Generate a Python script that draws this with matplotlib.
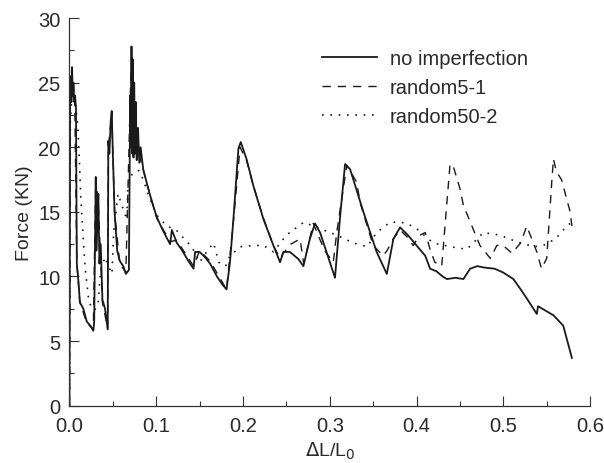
import numpy as np
import matplotlib
matplotlib.use("Agg")
import matplotlib.pyplot as plt
from matplotlib.ticker import MultipleLocator

# no imperfection (solid)
solid_x = [0.0, 0.0007, 0.0015, 0.0022, 0.003, 0.0038, 0.0046, 0.0055, 0.0065, 0.0075,
           0.0085, 0.0105, 0.012, 0.016, 0.02, 0.024, 0.0275, 0.0285, 0.0303, 0.031,
           0.032, 0.0333, 0.0345, 0.036, 0.038, 0.041, 0.0441, 0.0448, 0.046, 0.0475,
           0.0487, 0.050, 0.052, 0.055, 0.058, 0.062, 0.065, 0.0685, 0.0700, 0.0708,
           0.0715, 0.0722, 0.0730, 0.0738, 0.0746, 0.0755, 0.0765, 0.0775, 0.0790, 0.0805,
           0.082, 0.085, 0.09, 0.095, 0.1006, 0.106, 0.112, 0.116, 0.118, 0.1237,
           0.13, 0.137, 0.143, 0.1448, 0.150, 0.156, 0.162, 0.170, 0.176, 0.181,
           0.185, 0.189, 0.1947, 0.1974, 0.204, 0.212, 0.2235, 0.235, 0.2427, 0.2465,
           0.254, 0.2638, 0.2696, 0.277, 0.283, 0.2888, 0.306, 0.312, 0.3176, 0.3234,
           0.3387, 0.354, 0.3657, 0.3733, 0.381, 0.39, 0.40, 0.41, 0.4156, 0.423,
           0.43, 0.435, 0.445, 0.454, 0.4617, 0.47, 0.477, 0.49, 0.50, 0.5116,
           0.52, 0.527, 0.5386, 0.540, 0.55, 0.5577, 0.569, 0.579]
solid_y = [0.0, 23.0, 25.5, 23.5, 26.2, 24.0, 25.0, 23.5, 24.0, 23.0,
           11.0, 9.5, 8.0, 7.5, 6.5, 6.2, 5.8, 6.5, 17.7, 12.0,
           14.0, 16.4, 11.0, 12.5, 8.2, 7.5, 5.9, 20.5, 19.5, 22.0,
           22.8, 19.5, 15.0, 12.0, 11.2, 10.8, 10.2, 10.5, 24.0, 20.0,
           27.8, 19.5, 26.8, 19.2, 25.0, 19.5, 23.5, 19.0, 21.5, 18.8,
           20.0, 18.3, 17.0, 15.8, 14.6, 13.8, 13.0, 12.5, 13.6, 12.6,
           12.0, 11.2, 10.6, 11.9, 11.9, 11.5, 11.0, 10.0, 9.4, 9.0,
           11.1, 14.5, 19.9, 20.4, 19.1, 17.0, 14.45, 12.4, 11.1, 11.9,
           11.9, 11.35, 10.8, 12.9, 14.1, 13.4, 9.9, 14.7, 18.7, 18.3,
           15.0, 11.9, 10.2, 12.9, 13.8, 13.2, 12.4, 11.6, 10.6, 10.4,
           10.0, 9.8, 9.9, 9.8, 10.6, 10.8, 10.7, 10.6, 10.3, 9.8,
           9.0, 8.3, 7.1, 7.7, 7.3, 7.0, 6.2, 3.7]

# random5-1 (dashed)
dash_x = [0.0, 0.001, 0.003, 0.006, 0.0085, 0.012, 0.02, 0.0275, 0.0303, 0.033,
          0.038, 0.044, 0.0448, 0.0487, 0.052, 0.058, 0.065, 0.0705, 0.072, 0.075,
          0.08, 0.09, 0.1006, 0.116, 0.1237, 0.143, 0.150, 0.162, 0.181, 0.189,
          0.1966, 0.204, 0.212, 0.2235, 0.235, 0.2427, 0.2465, 0.255, 0.2657, 0.27,
          0.281, 0.294, 0.304, 0.308, 0.3196, 0.331, 0.335, 0.35, 0.3614, 0.366,
          0.373, 0.381, 0.39, 0.396, 0.404, 0.41, 0.4156, 0.421, 0.429, 0.4386,
          0.442, 0.45, 0.454, 0.473, 0.485, 0.4925, 0.4997, 0.51, 0.52, 0.527,
          0.5386, 0.544, 0.55, 0.5558, 0.5577, 0.5612, 0.567, 0.577, 0.579]
dash_y = [0.0, 23.0, 25.5, 24.0, 11.0, 8.0, 6.4, 5.9, 17.5, 16.0,
          8.0, 6.0, 20.0, 22.5, 15.0, 11.0, 10.3, 25.0, 27.0, 21.0,
          19.5, 17.0, 14.5, 12.7, 12.8, 10.8, 12.0, 11.2, 9.0, 14.3,
          20.0, 19.0, 17.0, 14.5, 12.4, 11.4, 11.8, 12.5, 12.9, 11.0,
          14.1, 12.0, 11.1, 13.4, 18.6, 17.3, 15.7, 12.4, 11.6, 12.0,
          12.9, 13.6, 13.0, 12.4, 13.2, 13.4, 12.1, 11.1, 10.8, 18.7,
          18.6, 16.8, 15.5, 12.4, 11.4, 12.4, 12.4, 11.8, 12.6, 13.9,
          11.9, 10.6, 11.4, 17.3, 19.1, 18.1, 17.5, 15.0, 13.9]

# random50-2 (dotted)
dot_x = [0.0, 0.001, 0.003, 0.0065, 0.0095, 0.0114, 0.013, 0.0142, 0.016, 0.018,
         0.0218, 0.025, 0.029, 0.033, 0.036, 0.041, 0.045, 0.049, 0.051, 0.056,
         0.062, 0.066, 0.0675, 0.0725, 0.08, 0.085, 0.09, 0.1, 0.112, 0.123,
         0.131, 0.141, 0.15, 0.158, 0.166, 0.172, 0.18, 0.185, 0.197, 0.212,
         0.2235, 0.235, 0.25, 0.27, 0.2888, 0.308, 0.327, 0.343, 0.354, 0.3695,
         0.381, 0.389, 0.40, 0.419, 0.439, 0.458, 0.477, 0.496, 0.515, 0.535,
         0.546, 0.56, 0.573, 0.577]
dot_y = [0.0, 22.0, 24.2, 23.6, 21.8, 19.0, 16.2, 14.8, 12.8, 10.7,
         8.4, 7.6, 7.4, 7.9, 10.5, 11.5, 10.8, 10.2, 13.5, 16.4,
         15.2, 14.4, 17.0, 18.0, 18.2, 17.5, 16.5, 14.8, 13.9, 13.6,
         13.0, 12.3, 11.1, 11.9, 12.6, 11.1, 10.8, 11.6, 12.3, 12.4,
         12.4, 11.9, 13.2, 14.2, 13.7, 13.2, 12.6, 12.3, 13.4, 14.2,
         14.2, 14.1, 13.7, 12.6, 12.3, 12.1, 13.4, 13.2, 12.7, 12.3,
         12.4, 12.9, 13.9, 14.1]

plt.rcParams['font.family'] = ['Liberation Sans', 'DejaVu Sans']
plt.rcParams['font.size'] = 14.5

fig = plt.figure(figsize=(6.04, 4.64), dpi=100)
ax = fig.add_axes([0.115, 0.1235, 0.862, 0.8355])

ink = '#1a1a1a'
ax.plot(solid_x, solid_y, color=ink, lw=1.3, label='no imperfection')
ax.plot(dash_x, dash_y, color=ink, lw=1.0, linestyle=(0, (6, 5)), label='random5-1')
ax.plot(dot_x, dot_y, color=ink, lw=1.2, linestyle=(0, (1, 4)), label='random50-2')

ax.set_xlim(0, 0.6)
ax.set_ylim(0, 30)
ax.xaxis.set_major_locator(MultipleLocator(0.1))
ax.xaxis.set_minor_locator(MultipleLocator(0.05))
ax.yaxis.set_major_locator(MultipleLocator(5))
ax.yaxis.set_minor_locator(MultipleLocator(2.5))
ax.set_xticks(np.arange(0, 0.61, 0.1))
ax.set_xticklabels(['0.0', '0.1', '0.2', '0.3', '0.4', '0.5', '0.6'])

for side in ['top', 'right']:
    ax.spines[side].set_visible(False)
for side in ['left', 'bottom']:
    ax.spines[side].set_color('#333333')
    ax.spines[side].set_linewidth(0.9)

ax.tick_params(which='major', direction='in', length=7.2, width=0.8, colors='#333333',
               labelcolor='#2a2a2a')
ax.tick_params(which='minor', direction='in', length=3.6, width=0.8, colors='#333333')
ax.tick_params(axis='x', which='major', pad=7.5)
ax.tick_params(axis='y', which='major', pad=6.5)

ax.set_ylabel('Force (KN)', color='#2a2a2a', fontsize=14, labelpad=4)
ax.set_xlabel(r'$\Delta$L/L$_0$', color='#2a2a2a', fontsize=14, labelpad=3)

ax.legend(loc='upper left', bbox_to_anchor=(321.7 / 604, 1 - 50 / 464),
          bbox_transform=fig.transFigure, frameon=False, borderpad=0,
          borderaxespad=0, handlelength=2.75, handletextpad=0.62,
          labelspacing=0.5, labelcolor='#2a2a2a')

fig.savefig('out.png', dpi=100)
